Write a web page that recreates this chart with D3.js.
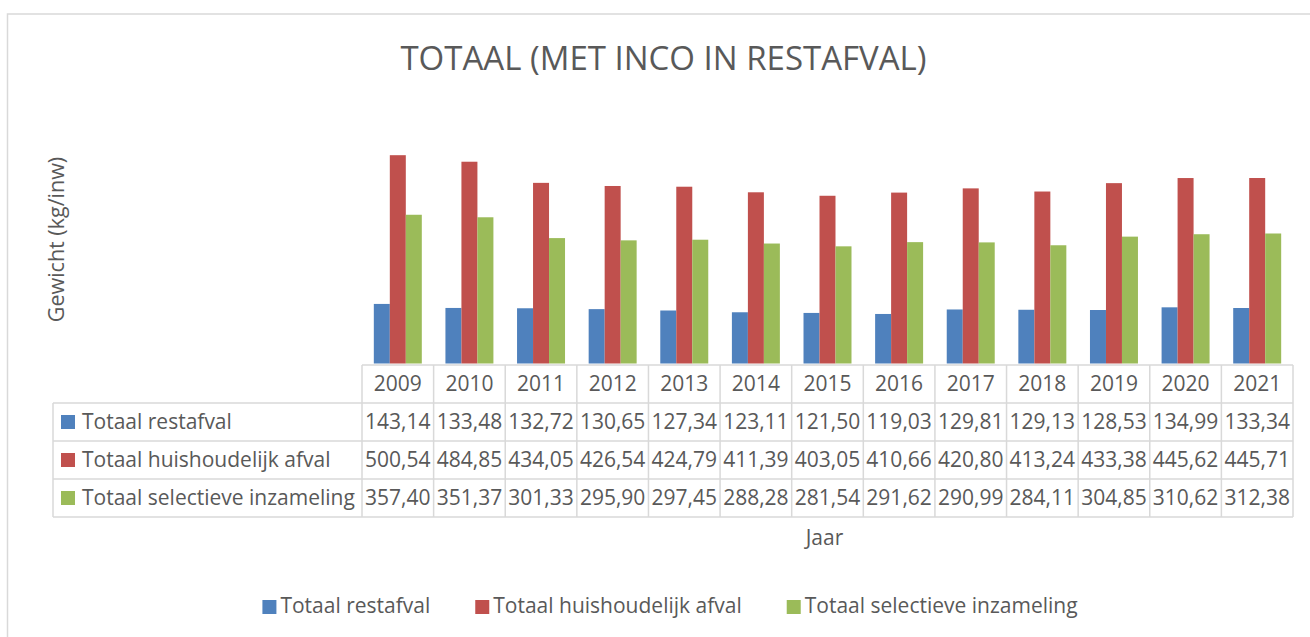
<!DOCTYPE html>
<html lang="nl">
<head>
	<meta charset="UTF-8">
	<title>Totaal (met inco in restafval)</title>
	<script src="https://cdnjs.cloudflare.com/ajax/libs/d3/7.8.5/d3.min.js"></script>
	<style>
		body { margin: 0; background: #fff; }
		text { font-family: "Open Sans", sans-serif; fill: #595959; }
	</style>
</head>
<body>
	<div id="container"></div>

	<script>
		var years = ["2009", "2010", "2011", "2012", "2013", "2014", "2015", "2016", "2017", "2018", "2019", "2020", "2021"];
		var seriesNames = ["Totaal restafval", "Totaal huishoudelijk afval", "Totaal selectieve inzameling"];
		var seriesColors = ["#4f81bd", "#c0504d", "#9bbb59"];

		var restafval = [143.14, 133.48, 132.72, 130.65, 127.34, 123.11, 121.50, 119.03, 129.81, 129.13, 128.53, 134.99, 133.34];
		var huishoudelijk = [500.54, 484.85, 434.05, 426.54, 424.79, 411.39, 403.05, 410.66, 420.80, 413.24, 433.38, 445.62, 445.71];
		var selectief = [357.40, 351.37, 301.33, 295.90, 297.45, 288.28, 281.54, 291.62, 290.99, 284.11, 304.85, 310.62, 312.38];

		var seriesValues = [restafval, huishoudelijk, selectief];

		var width = 1310, height = 637;

		var svg = d3.select("#container").append("svg")
			.attr("width", width)
			.attr("height", height);

		// chart frame
		svg.append("rect")
			.attr("x", 7.5)
			.attr("y", 14)
			.attr("width", width)
			.attr("height", height)
			.attr("fill", "none")
			.attr("stroke", "#d9d9d9")
			.attr("stroke-width", 1.5);

		svg.append("text")
			.attr("x", 663.5)
			.attr("y", 70)
			.attr("text-anchor", "middle")
			.style("font-size", "33px")
			.text("TOTAAL (MET INCO IN RESTAFVAL)");

		var plotLeft = 362, plotRight = 1293;
		var baseY = 363.5;

		var x0 = d3.scaleBand()
			.domain(years)
			.range([plotLeft, plotRight]);

		var groupW = x0.bandwidth() * 0.67;
		var x1 = d3.scaleBand()
			.domain(seriesNames)
			.range([0, groupW]);

		var y = d3.scaleLinear()
			.domain([0, 600])
			.range([baseY, baseY - 249.7]);

		// bars
		seriesNames.forEach(function(name, si) {
			svg.append("g").selectAll("rect")
				.data(seriesValues[si])
				.enter().append("rect")
					.attr("x", function(d, i) { return x0(years[i]) + (x0.bandwidth() - groupW) / 2 + x1(name); })
					.attr("y", function(d) { return y(d); })
					.attr("width", x1.bandwidth())
					.attr("height", function(d) { return baseY - y(d); })
					.attr("fill", seriesColors[si]);
		});

		// y axis title
		svg.append("text")
			.attr("transform", "translate(56,239.5) rotate(-90)")
			.attr("text-anchor", "middle")
			.attr("dy", "0.35em")
			.style("font-size", "21.5px")
			.text("Gewicht (kg/inw)");

		// data table
		var tableTop = 365, rowH = 38, labelLeft = 53;
		var grid = svg.append("g")
			.attr("stroke", "#d9d9d9")
			.attr("stroke-width", 1.5);

		grid.append("line")
			.attr("x1", plotLeft).attr("x2", plotRight)
			.attr("y1", tableTop).attr("y2", tableTop);
		for (var r = 1; r <= 4; r++) {
			grid.append("line")
				.attr("x1", labelLeft).attr("x2", plotRight)
				.attr("y1", tableTop + r * rowH).attr("y2", tableTop + r * rowH);
		}
		grid.append("line")
			.attr("x1", labelLeft).attr("x2", labelLeft)
			.attr("y1", tableTop + rowH).attr("y2", tableTop + 4 * rowH);
		years.forEach(function(yr, i) {
			grid.append("line")
				.attr("x1", x0(yr)).attr("x2", x0(yr))
				.attr("y1", tableTop).attr("y2", tableTop + 4 * rowH);
		});
		grid.append("line")
			.attr("x1", plotRight).attr("x2", plotRight)
			.attr("y1", tableTop).attr("y2", tableTop + 4 * rowH);

		var fmt = function(v) { return v.toFixed(2).replace(".", ","); };

		svg.append("g").selectAll("text")
			.data(years)
			.enter().append("text")
				.attr("x", function(d) { return x0(d) + x0.bandwidth() / 2; })
				.attr("y", tableTop + rowH / 2)
				.attr("dy", "0.33em")
				.attr("text-anchor", "middle")
				.style("font-size", "21px")
				.text(function(d) { return d; });

		seriesNames.forEach(function(name, si) {
			var cy = tableTop + (si + 1.5) * rowH;
			svg.append("rect")
				.attr("x", 61)
				.attr("y", cy - 7)
				.attr("width", 14)
				.attr("height", 14)
				.attr("fill", seriesColors[si]);
			svg.append("text")
				.attr("x", 82)
				.attr("y", cy)
				.attr("dy", "0.33em")
				.style("font-size", "21px")
				.text(name);
			svg.append("g").selectAll("text")
				.data(seriesValues[si])
				.enter().append("text")
					.attr("x", function(d, i) { return x0(years[i]) + x0.bandwidth() / 2; })
					.attr("y", cy)
					.attr("dy", "0.33em")
					.attr("text-anchor", "middle")
					.style("font-size", "21px")
					.text(fmt);
		});

		// x axis title
		svg.append("text")
			.attr("x", 824.5)
			.attr("y", 545)
			.attr("text-anchor", "middle")
			.style("font-size", "21px")
			.text("Jaar");

		// legend
		var legend = svg.append("g");
		var lx = 0;
		seriesNames.forEach(function(name, si) {
			var item = legend.append("g").attr("transform", "translate(" + lx + ",0)");
			item.append("rect")
				.attr("x", 0)
				.attr("y", 600)
				.attr("width", 14)
				.attr("height", 14)
				.attr("fill", seriesColors[si]);
			var t = item.append("text")
				.attr("x", 18)
				.attr("y", 613)
				.style("font-size", "21px")
				.text(name);
			lx += 18 + t.node().getComputedTextLength() + 45;
		});
		var legendW = lx - 45;
		legend.attr("transform", "translate(" + (670 - legendW / 2) + ",0)");
	</script>
</body>
</html>
